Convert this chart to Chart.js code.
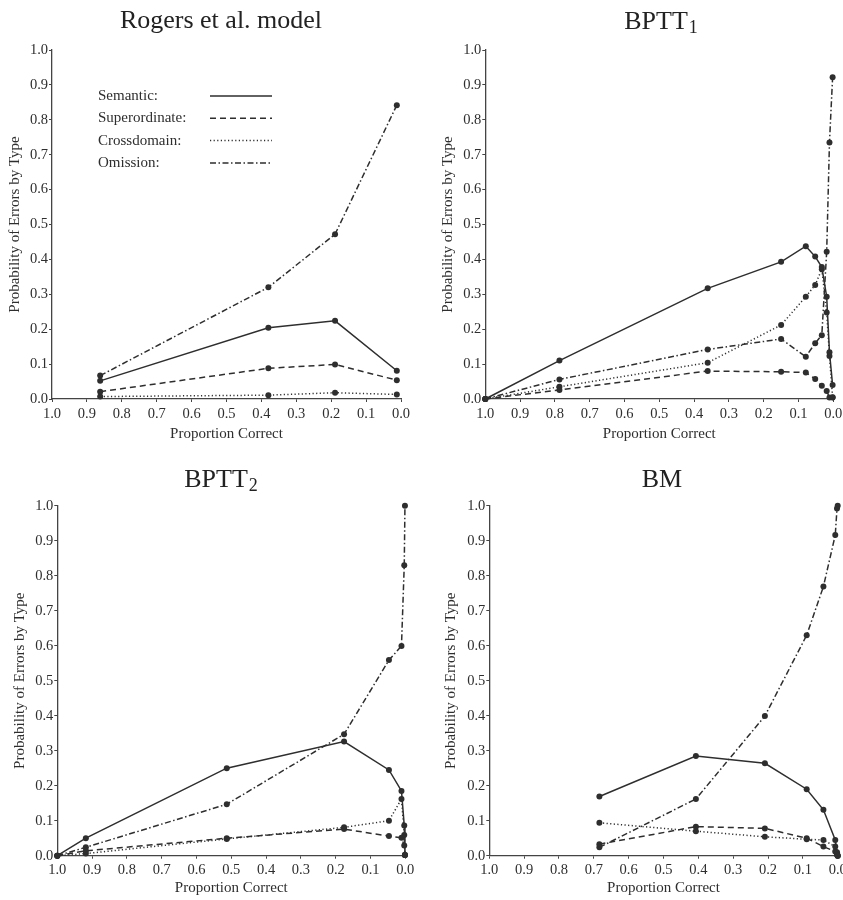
<!DOCTYPE html>
<html>
<head>
<meta charset="utf-8">
<script src="https://cdn.jsdelivr.net/npm/chart.js@4/dist/chart.umd.min.js"></script>
<style>
  html, body { margin: 0; padding: 0; background: #fff; }
  #wrap { position: relative; width: 843px; height: 900px; overflow: hidden; }
  .panel { position: absolute; }
  canvas { display: block; }
</style>
</head>
<body>
<div id="wrap">
  <div class="panel" style="left:0;top:440px"><canvas id="bptt2" width="421" height="460"></canvas></div>
  <div class="panel" style="left:421px;top:440px"><canvas id="bm" width="422" height="460"></canvas></div>
  <div class="panel" style="left:0;top:0"><canvas id="rogers" width="421" height="446"></canvas></div>
  <div class="panel" style="left:421px;top:0"><canvas id="bptt1" width="422" height="446"></canvas></div>
</div>
<script>
// ---- data (proportion correct on x, error probability on y) ----
const seriesNames = ['Semantic', 'Superordinate', 'Crossdomain', 'Omission'];
const axisTicks = [0, 0.1, 0.2, 0.3, 0.4, 0.5, 0.6, 0.7, 0.8, 0.9, 1.0];

const rogersX             = [0.862, 0.380, 0.189, 0.012];
const rogersSemantic      = [0.052, 0.204, 0.224, 0.081];
const rogersSuperordinate = [0.021, 0.088, 0.099, 0.054];
const rogersCrossdomain   = [0.007, 0.011, 0.018, 0.013];
const rogersOmission      = [0.067, 0.320, 0.472, 0.842];

const bptt1X             = [1.0, 0.787, 0.361, 0.150, 0.079, 0.052, 0.033, 0.019, 0.011, 0.002];
const bptt1Semantic      = [0, 0.110, 0.317, 0.393, 0.438, 0.408, 0.378, 0.293, 0.134, 0.040];
const bptt1Superordinate = [0, 0.026, 0.080, 0.078, 0.076, 0.057, 0.038, 0.023, 0.004, 0.004];
const bptt1Crossdomain   = [0, 0.035, 0.104, 0.212, 0.293, 0.327, 0.372, 0.248, 0.123, 0.005];
const bptt1Omission      = [0, 0.056, 0.142, 0.172, 0.121, 0.160, 0.183, 0.422, 0.735, 0.922];

const bptt2X             = [1.0, 0.918, 0.513, 0.176, 0.047, 0.011, 0.003, 0.001];
const bptt2Semantic      = [0, 0.050, 0.250, 0.326, 0.245, 0.185, 0.086, 0.002];
const bptt2Superordinate = [0, 0.014, 0.050, 0.076, 0.056, 0.051, 0.029, 0.002];
const bptt2Crossdomain   = [0, 0.006, 0.048, 0.081, 0.100, 0.162, 0.059, 0.002];
const bptt2Omission      = [0, 0.024, 0.147, 0.347, 0.559, 0.599, 0.830, 1.0];

const bmX             = [0.684, 0.407, 0.209, 0.089, 0.041, 0.007, 0.002, 0.0];
const bmSemantic      = [0.169, 0.285, 0.264, 0.190, 0.131, 0.045, 0.010, 0.0];
const bmSuperordinate = [0.033, 0.083, 0.078, 0.050, 0.026, 0.012, 0.003, 0.0];
const bmCrossdomain   = [0.094, 0.070, 0.054, 0.047, 0.045, 0.026, 0.006, 0.0];
const bmOmission      = [0.024, 0.162, 0.399, 0.630, 0.769, 0.916, 0.992, 1.0];

// ---- styling ----
const INK = '#2e2e2e';
const FONT = '"Liberation Serif", "DejaVu Serif", serif';
const LABEL_SIZE = 15;           // axis titles + legend
const TICK_SIZE = 14.5;
const dashes = {
  Semantic: [],
  Superordinate: [6, 4],
  Crossdomain: [1.2, 2.4],
  Omission: [6, 2.5, 1.5, 2.5]
};

// title drawn over the plot, with optional subscript
const panelTitle = {
  id: 'panelTitle',
  afterDraw(chart, args, o) {
    if (!o.text) return;
    const ctx = chart.ctx;
    ctx.save();
    ctx.fillStyle = '#222';
    ctx.textBaseline = 'alphabetic';
    const main = '26px ' + FONT, sub = '18px ' + FONT;
    ctx.font = main;
    const w1 = ctx.measureText(o.text).width;
    ctx.font = sub;
    const w2 = o.sub ? ctx.measureText(o.sub).width + 1 : 0;
    const x = o.cx - (w1 + w2) / 2;
    ctx.font = main;
    ctx.fillText(o.text, x, o.y);
    if (o.sub) {
      ctx.font = sub;
      ctx.fillText(o.sub, x + w1 + 1, o.y + 4);
    }
    ctx.restore();
  }
};

// line-sample legend inside the first panel
const typeLegend = {
  id: 'typeLegend',
  afterDraw(chart, args, o) {
    if (!o.show) return;
    const ctx = chart.ctx;
    ctx.save();
    ctx.font = LABEL_SIZE + 'px ' + FONT;
    ctx.fillStyle = INK;
    ctx.textBaseline = 'middle';
    chart.data.datasets.forEach((ds, i) => {
      const y = o.top + i * o.gap;
      ctx.fillText(ds.label + ':', o.textX, y);
      ctx.beginPath();
      ctx.setLineDash(ds.borderDash);
      ctx.strokeStyle = ds.borderColor;
      ctx.lineWidth = ds.borderWidth;
      ctx.moveTo(o.x0, y);
      ctx.lineTo(o.x1, y);
      ctx.stroke();
    });
    ctx.restore();
  }
};

function makePanel(id, xs, ys, box, title) {
  const canvas = document.getElementById(id);
  const w = canvas.width, h = canvas.height;
  const half = LABEL_SIZE * 1.2 / 2;
  const datasets = seriesNames.map((name, i) => ({
    label: name,
    data: xs.map((x, j) => ({ x: x, y: ys[i][j] })),
    borderColor: INK,
    borderWidth: 1.5,
    borderDash: dashes[name],
    pointRadius: 3,
    pointBackgroundColor: INK,
    pointBorderWidth: 0,
    tension: 0,
    clip: false
  }));
  const tickCb = v => Number(v).toFixed(1);
  return new Chart(canvas, {
    type: 'line',
    data: { datasets },
    plugins: [panelTitle, typeLegend],
    options: {
      responsive: false,
      animation: false,
      layout: { padding: { left: 0, top: box.top, right: w - box.right, bottom: 0 } },
      plugins: {
        legend: { display: false },
        tooltip: { enabled: false },
        panelTitle: title,
        typeLegend: { show: !!box.legend, textX: 98, x0: 210, x1: 272, top: 96, gap: 22.3 }
      },
      scales: {
        x: {
          type: 'linear', reverse: true, min: 0, max: 1,
          afterBuildTicks: s => { s.ticks = axisTicks.map(v => ({ value: v })); },
          afterFit: s => { s.height = h - box.bottom; s.paddingLeft = 0; s.paddingRight = 0; },
          grid: { drawOnChartArea: false, drawTicks: true, tickLength: 3, color: '#444', lineWidth: 1 },
          border: { display: true, color: '#444', width: 1.3 },
          ticks: { callback: tickCb, autoSkip: false, maxRotation: 0, padding: 3, color: INK, font: { family: FONT, size: TICK_SIZE } },
          title: { display: true, text: 'Proportion Correct', color: INK, font: { family: FONT, size: LABEL_SIZE }, padding: { top: 0, bottom: 12 - half } }
        },
        y: {
          type: 'linear', min: 0, max: 1,
          afterBuildTicks: s => { s.ticks = axisTicks.map(v => ({ value: v })); },
          afterFit: s => { s.width = box.left; s.paddingTop = 0; s.paddingBottom = 0; },
          grid: { drawOnChartArea: false, drawTicks: true, tickLength: 3, color: '#444', lineWidth: 1 },
          border: { display: true, color: '#444', width: 1.3 },
          ticks: { callback: tickCb, autoSkip: false, padding: 1, color: INK, font: { family: FONT, size: TICK_SIZE } },
          title: { display: true, text: 'Probability of Errors by Type', color: INK, font: { family: FONT, size: LABEL_SIZE }, padding: { top: box.yTitle - half, bottom: 0 } }
        }
      }
    }
  });
}

makePanel('rogers', rogersX,
  [rogersSemantic, rogersSuperordinate, rogersCrossdomain, rogersOmission],
  { left: 52, right: 401, top: 50, bottom: 399, yTitle: 15, legend: true },
  { text: 'Rogers et al. model', cx: 221, y: 28 });

makePanel('bptt1', bptt1X,
  [bptt1Semantic, bptt1Superordinate, bptt1Crossdomain, bptt1Omission],
  { left: 64.3, right: 412.3, top: 50, bottom: 399, yTitle: 27 },
  { text: 'BPTT', sub: '1', cx: 240, y: 29 });

makePanel('bptt2', bptt2X,
  [bptt2Semantic, bptt2Superordinate, bptt2Crossdomain, bptt2Omission],
  { left: 57.3, right: 405.3, top: 65.7, bottom: 415.7, yTitle: 20 },
  { text: 'BPTT', sub: '2', cx: 221, y: 47 });

makePanel('bm', bmX,
  [bmSemantic, bmSuperordinate, bmCrossdomain, bmOmission],
  { left: 68.3, right: 416.7, top: 65.7, bottom: 415.7, yTitle: 30 },
  { text: 'BM', cx: 241, y: 47 });
</script>
</body>
</html>
